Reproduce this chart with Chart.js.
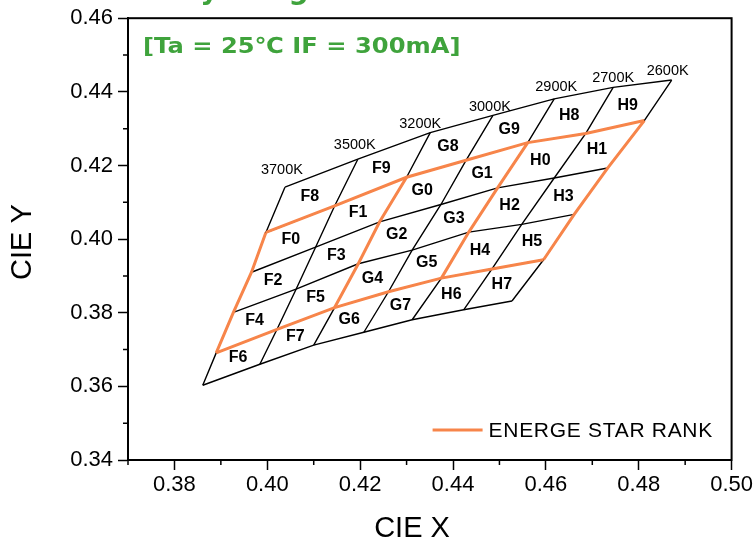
<!DOCTYPE html>
<html>
<head>
<meta charset="utf-8">
<script src="https://cdn.jsdelivr.net/npm/chart.js@4.4.0/dist/chart.umd.min.js"></script>
<style>
  html, body { margin: 0; padding: 0; background: #fff; }
  #wrap { width: 755px; height: 547px; }
</style>
</head>
<body>
<div id="wrap"><canvas id="cie-chart"></canvas></div>
<script>
// isotherm labels, left to right
const cctLabels = ['3700K', '3500K', '3200K', '3000K', '2900K', '2700K', '2600K'];

// grid corners: one row per duv line (top to bottom), one column per isotherm
const gridX = [
  [0.4038, 0.4195, 0.4351, 0.4486, 0.4618, 0.4745, 0.4871],
  [0.3997, 0.4145, 0.4300, 0.4428, 0.4561, 0.4686, 0.4812],
  [0.3966, 0.4104, 0.4242, 0.4374, 0.4496, 0.4618, 0.4733],
  [0.3927, 0.4062, 0.4196, 0.4312, 0.4434, 0.4548, 0.4661],
  [0.3890, 0.4021, 0.4145, 0.4261, 0.4375, 0.4484, 0.4595],
  [0.3861, 0.3984, 0.4100, 0.4208, 0.4312, 0.4423, 0.4527]
];
const gridY = [
  [0.4141, 0.4217, 0.4289, 0.4336, 0.4381, 0.4412, 0.4432],
  [0.4018, 0.4090, 0.4168, 0.4214, 0.4262, 0.4287, 0.4322],
  [0.3910, 0.3978, 0.4047, 0.4094, 0.4139, 0.4166, 0.4193],
  [0.3801, 0.3864, 0.3933, 0.3970, 0.4019, 0.4040, 0.4067],
  [0.3691, 0.3755, 0.3814, 0.3857, 0.3894, 0.3919, 0.3944],
  [0.3603, 0.3660, 0.3712, 0.3747, 0.3781, 0.3808, 0.3832]
];

// bin names, laid out like the cells
const binNames = [
  ['F8', 'F9', 'G8', 'G9', 'H8', 'H9'],
  ['F0', 'F1', 'G0', 'G1', 'H0', 'H1'],
  ['F2', 'F3', 'G2', 'G3', 'H2', 'H3'],
  ['F4', 'F5', 'G4', 'G5', 'H4', 'H5'],
  ['F6', 'F7', 'G6', 'G7', 'H6', 'H7']
];

// energy star quadrangles: which duv lines / isotherms bound them
const starRows = [1, 4];
const starCols = [0, 2, 4, 6];

const xTicks = [0.38, 0.40, 0.42, 0.44, 0.46, 0.48, 0.50];
const yTicks = [0.34, 0.36, 0.38, 0.40, 0.42, 0.44, 0.46];
const xMinor = [0.37, 0.39, 0.41, 0.43, 0.45, 0.47, 0.49];
const yMinor = [0.35, 0.37, 0.39, 0.41, 0.43, 0.45];

const ORANGE = '#f7854a';
const GREEN = '#3fa33c';
const SANS = '"Liberation Sans", Arial, sans-serif';

const pts = (xs, ys) => xs.map((x, i) => ({ x: x, y: ys[i] }));
const lineStyle = { showLine: true, pointRadius: 0, tension: 0, fill: false };

const datasets = [];
// duv lines
gridX.forEach((row, j) => {
  datasets.push({ ...lineStyle, data: pts(row, gridY[j]), borderColor: '#000', borderWidth: 1.4, order: 2 });
});
// isotherms
cctLabels.forEach((_, i) => {
  datasets.push({
    ...lineStyle,
    data: pts(gridX.map(r => r[i]), gridY.map(r => r[i])),
    borderColor: '#000', borderWidth: 1.4, order: 2
  });
});
// energy star outline
starRows.forEach(j => {
  const a = starCols[0], b = starCols[starCols.length - 1] + 1;
  datasets.push({ ...lineStyle, data: pts(gridX[j].slice(a, b), gridY[j].slice(a, b)), borderColor: ORANGE, borderWidth: 3, order: 1 });
});
starCols.forEach(i => {
  const rows = gridX.slice(starRows[0], starRows[1] + 1).map((r, k) => ({ x: r[i], y: gridY[starRows[0] + k][i] }));
  datasets.push({ ...lineStyle, data: rows, borderColor: ORANGE, borderWidth: 3, order: 1 });
});

// pixel nudges for the isotherm labels (they sit above the top corners)
const cctLabelShift = [[-3, -17], [-3, -14], [-10, -9], [-3, -8], [2, -12], [0, -9], [-4, -9]];

const decorations = {
  id: 'decorations',
  afterDatasetsDraw(chart) {
    const { ctx, chartArea: area, scales: { x, y } } = chart;
    ctx.save();

    // bin names at cell centres
    ctx.fillStyle = '#000';
    ctx.font = 'bold 16px ' + SANS;
    ctx.textAlign = 'center';
    ctx.textBaseline = 'middle';
    binNames.forEach((row, j) => {
      row.forEach((name, i) => {
        const cx = (gridX[j][i] + gridX[j][i + 1] + gridX[j + 1][i] + gridX[j + 1][i + 1]) / 4;
        const cy = (gridY[j][i] + gridY[j][i + 1] + gridY[j + 1][i] + gridY[j + 1][i + 1]) / 4;
        ctx.fillText(name, x.getPixelForValue(cx) - 1, y.getPixelForValue(cy));
      });
    });

    // isotherm labels
    ctx.font = '14.5px ' + SANS;
    cctLabels.forEach((t, i) => {
      const px = x.getPixelForValue(gridX[0][i]) + cctLabelShift[i][0];
      const py = y.getPixelForValue(gridY[0][i]) + cctLabelShift[i][1];
      ctx.fillText(t, px, py);
    });

    // legend
    const lx = area.right - 299, ly = area.bottom - 30;
    ctx.strokeStyle = ORANGE;
    ctx.lineWidth = 3;
    ctx.beginPath();
    ctx.moveTo(lx, ly);
    ctx.lineTo(lx + 50, ly);
    ctx.stroke();
    ctx.fillStyle = '#000';
    ctx.font = '21px ' + SANS;
    ctx.letterSpacing = '0.7px';
    ctx.textAlign = 'left';
    ctx.fillText('ENERGE STAR RANK', lx + 56, ly + 1);
    ctx.letterSpacing = '0px';

    // test condition, a wide bold face
    ctx.fillStyle = GREEN;
    ctx.font = 'bold 22px "DejaVu Sans", Verdana, sans-serif';
    ctx.translate(area.left + 15, area.top + 29);
    ctx.scale(1.1, 1);
    ctx.fillText('[Ta = 25℃ IF = 300mA]', 0, 0);
    ctx.restore();
  },
  afterDraw(chart) {
    const { ctx, chartArea: area, scales: { x, y } } = chart;
    ctx.save();
    ctx.strokeStyle = '#000';
    ctx.lineWidth = 2;
    ctx.strokeRect(area.left, area.top, area.right - area.left, area.bottom - area.top);

    // minor ticks
    ctx.lineWidth = 1.5;
    ctx.beginPath();
    xMinor.forEach(v => {
      const px = x.getPixelForValue(v);
      ctx.moveTo(px, area.bottom);
      ctx.lineTo(px, area.bottom + 5);
    });
    yMinor.forEach(v => {
      const py = y.getPixelForValue(v);
      ctx.moveTo(area.left, py);
      ctx.lineTo(area.left - 5, py);
    });
    ctx.stroke();

    // axis titles
    ctx.fillStyle = '#000';
    ctx.font = '29px ' + SANS;
    ctx.textAlign = 'center';
    ctx.textBaseline = 'middle';
    ctx.fillText('CIE X', 412, 529);
    ctx.translate(23, (area.top + area.bottom) / 2 + 3);
    ctx.rotate(-Math.PI / 2);
    ctx.fillText('CIE Y', 0, 0);
    ctx.restore();

    // page title, mostly cut off by the top edge
    ctx.save();
    ctx.fillStyle = GREEN;
    ctx.font = 'bold 28px "DejaVu Sans", Verdana, sans-serif';
    ctx.textAlign = 'left';
    ctx.textBaseline = 'alphabetic';
    ctx.fillText('Chromaticity Range', 16, -1.5);
    ctx.restore();
  }
};

new Chart(document.getElementById('cie-chart'), {
  type: 'scatter',
  data: { datasets: datasets },
  options: {
    responsive: true,
    maintainAspectRatio: false,
    animation: false,
    layout: { padding: { top: 13, right: 22, left: 0, bottom: 0 } },
    plugins: { legend: { display: false }, tooltip: { enabled: false } },
    scales: {
      x: {
        type: 'linear',
        min: 0.37,
        max: 0.50,
        afterBuildTicks: s => { s.ticks = xTicks.map(v => ({ value: v })); },
        afterFit: s => { s.height = 87; },
        border: { display: true, color: '#000', width: 2 },
        grid: { drawOnChartArea: false, drawTicks: true, tickLength: 10, tickColor: '#000', tickWidth: 1.5 },
        ticks: { color: '#000', padding: 2, maxRotation: 0, autoSkip: false, font: { family: SANS, size: 22 }, callback: v => v.toFixed(2) }
      },
      y: {
        type: 'linear',
        min: 0.34,
        max: 0.46,
        afterBuildTicks: s => { s.ticks = yTicks.map(v => ({ value: v })); },
        afterFit: s => { s.width = 128; },
        border: { display: true, color: '#000', width: 2 },
        grid: { drawOnChartArea: false, drawTicks: true, tickLength: 10, tickColor: '#000', tickWidth: 1.5 },
        ticks: { color: '#000', padding: 5, autoSkip: false, font: { family: SANS, size: 22 }, callback: v => v.toFixed(2) }
      }
    }
  },
  plugins: [decorations]
});
</script>
</body>
</html>
